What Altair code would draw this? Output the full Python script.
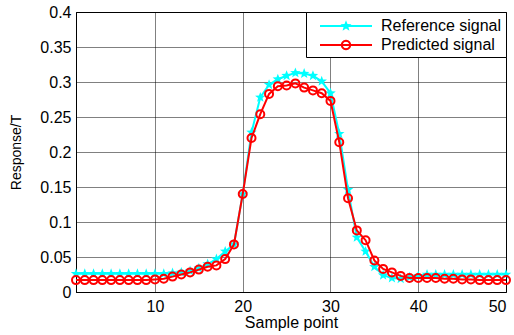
import math
import altair as alt
import pandas as pd

FONT = "Liberation Sans"

sample_points = list(range(1, 51))
series_names = ["Reference signal", "Predicted signal"]
series_colors = ["#00FFFF", "#FF0000"]

reference_signal = [
    0.026, 0.026, 0.026, 0.026, 0.026, 0.026, 0.026, 0.026, 0.026, 0.026,
    0.026, 0.027, 0.028, 0.030, 0.034, 0.040, 0.047, 0.058, 0.068, 0.140,
    0.228, 0.278, 0.296, 0.304, 0.309, 0.313, 0.312, 0.309, 0.301, 0.284,
    0.226, 0.146, 0.078, 0.058, 0.036, 0.024, 0.020, 0.019, 0.021, 0.023,
    0.025, 0.025, 0.025, 0.025, 0.025, 0.025, 0.025, 0.025, 0.025, 0.025,
]
predicted_signal = [
    0.017, 0.017, 0.017, 0.017, 0.017, 0.017, 0.017, 0.017, 0.017, 0.018,
    0.019, 0.022, 0.025, 0.028, 0.032, 0.036, 0.038, 0.047, 0.068, 0.140,
    0.220, 0.254, 0.283, 0.294, 0.295, 0.298, 0.292, 0.288, 0.284, 0.273,
    0.214, 0.134, 0.088, 0.074, 0.045, 0.033, 0.028, 0.023, 0.020, 0.020,
    0.020, 0.020, 0.019, 0.019, 0.018, 0.018, 0.017, 0.017, 0.017, 0.017,
]
x_ticks = [10, 20, 30, 40, 50]
y_ticks = [0, 0.05, 0.1, 0.15, 0.2, 0.25, 0.3, 0.35, 0.4]

df = pd.DataFrame({
    "x": sample_points + sample_points,
    "y": reference_signal + predicted_signal,
    "series": [series_names[0]] * len(sample_points) + [series_names[1]] * len(sample_points),
})


def poly(radius, n, clockwise=True, r_inner=None):
    out = []
    for k in range(n):
        t = k if clockwise else -k
        ang = -math.pi / 2 + t * 2 * math.pi / n
        rad = radius if (r_inner is None or k % 2 == 0) else r_inner
        out.append(f"{rad * math.cos(ang):.3f},{rad * math.sin(ang):.3f}")
    return "M" + "L".join(out) + "Z"


# marker star path (unit radius, scaled by sqrt(size)/2)
star_marker = poly(1.0, 10, r_inner=0.42)

# legend symbol paths (line sample + marker), units scaled by sqrt(symbolSize)/2
bar = "M-2.6,-0.1L2.6,-0.1L2.6,0.1L-2.6,0.1Z"
ring = poly(0.52, 28) + poly(0.32, 28, clockwise=False)
star = poly(0.58, 10, r_inner=0.25)
ref_symbol = bar + star
pred_symbol = bar + ring

legend = alt.Legend(
    title=None,
    orient="top-right",
    offset=0,
    padding=4,
    strokeColor="black",
    fillColor="white",
    labelFont=FONT,
    labelFontSize=16,
    labelColor="black",
    labelLimit=300,
    symbolSize=400,
    symbolOffset=26,
    labelOffset=25,
    rowPadding=1,
    symbolStrokeWidth=0,
    symbolOpacity=1,
    labelExpr="datum.label + '  '",
)

x_enc = alt.X(
    "x:Q",
    scale=alt.Scale(domain=[1, 50], nice=False, zero=False),
    axis=alt.Axis(values=x_ticks, title="Sample point", format="d"),
)
y_enc = alt.Y(
    "y:Q",
    scale=alt.Scale(domain=[0, 0.4], nice=False),
    axis=alt.Axis(values=y_ticks, title="Response/T", format="~g"),
)

base = alt.Chart(df).encode(x=x_enc, y=y_enc)

legend_layer = base.transform_filter(alt.datum.x < 0).mark_point(
    filled=True, opacity=1, strokeWidth=0
).encode(
    color=alt.Color("series:N", scale=alt.Scale(domain=series_names, range=series_colors),
                    legend=legend),
    shape=alt.Shape("series:N", scale=alt.Scale(domain=series_names, range=[ref_symbol, pred_symbol]),
                    legend=legend),
)

ref_data = base.transform_filter(alt.datum.series == series_names[0])
pred_data = base.transform_filter(alt.datum.series == series_names[1])

ref_line = ref_data.mark_line(strokeWidth=2, color=series_colors[0])
ref_pts = ref_data.mark_point(shape=star_marker, filled=True, size=121, opacity=1,
                              color=series_colors[0])
pred_line = pred_data.mark_line(strokeWidth=2, color=series_colors[1])
pred_pts = pred_data.mark_point(shape="circle", filled=False, size=64, strokeWidth=2,
                                opacity=1, color=series_colors[1])

chart = (
    alt.layer(ref_line, ref_pts, pred_line, pred_pts, legend_layer)
    .properties(
        width=430,
        height=280,
        autosize=alt.AutoSizeParams(type="none"),
        padding={"left": 76, "top": 12, "right": 8, "bottom": 43},
    )
    .configure(background="white")
    .configure_view(stroke="black", strokeWidth=1)
    .configure_axis(
        domainColor="black",
        domainWidth=1,
        ticks=False,
        grid=True,
        gridColor="black",
        gridDash=[1, 1],
        gridWidth=1,
        gridOpacity=1,
        labelFont=FONT,
        labelFontSize=16,
        labelColor="black",
        titleFont=FONT,
        titleFontWeight="normal",
        titleColor="black",
    )
    .configure_axisX(labelPadding=6, titlePadding=0, titleFontSize=16)
    .configure_axisY(labelPadding=5, titlePadding=16, titleFontSize=14)
)

chart.save("out.html", embed_options={"renderer": "svg", "actions": False})
